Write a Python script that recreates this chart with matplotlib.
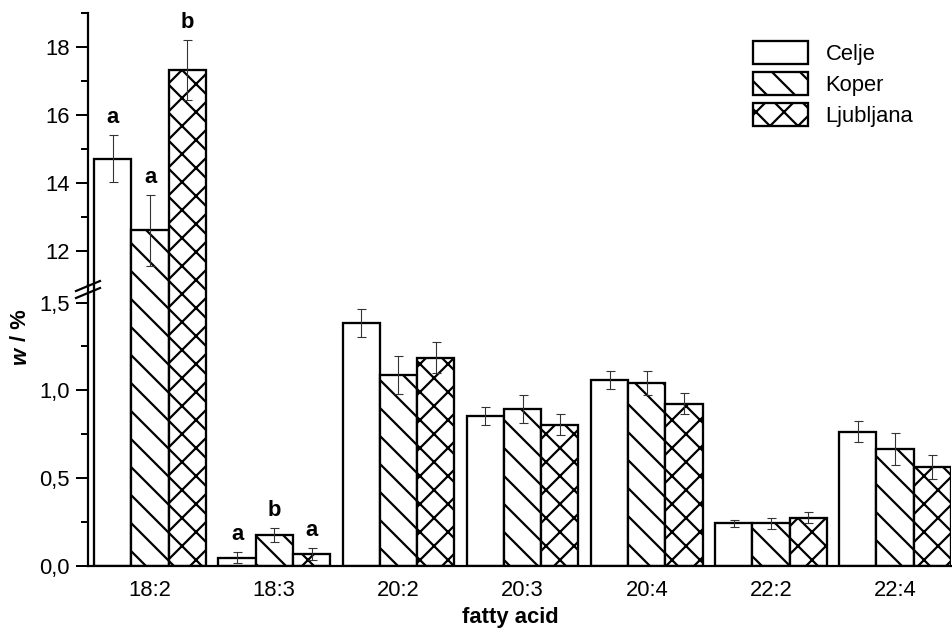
import numpy as np
import matplotlib.pyplot as plt
from matplotlib.patches import Patch
from matplotlib.lines import Line2D

# hatch spacing in matplotlib is tied to the dpi, so draw at 168 dpi and size things in pixels
DPI = 168
W, H = 952, 634


def pt(px):
    return px * 72 / DPI


plt.rcParams['font.family'] = ['Liberation Sans', 'DejaVu Sans']
plt.rcParams['font.size'] = pt(22)
plt.rcParams['hatch.linewidth'] = pt(2.2)

acids = ['18:2', '18:3', '20:2', '20:3', '20:4', '22:2', '22:4']
cities = ['Celje', 'Koper', 'Ljubljana']

celje = [14.72, 0.047, 1.386, 0.855, 1.058, 0.243, 0.765]
celje_err = [0.70, 0.030, 0.080, 0.050, 0.050, 0.020, 0.060]
koper = [12.61, 0.177, 1.087, 0.896, 1.043, 0.243, 0.667]
koper_err = [1.05, 0.040, 0.110, 0.080, 0.070, 0.030, 0.090]
ljubljana = [17.33, 0.068, 1.187, 0.805, 0.923, 0.275, 0.564]
ljubljana_err = [0.88, 0.035, 0.090, 0.060, 0.060, 0.030, 0.070]

letters_182 = ['a', 'a', 'b']   # upper part, 18:2
letters_183 = ['a', 'b', 'a']   # lower part, 18:3

series = [celje, koper, ljubljana]
errors = [celje_err, koper_err, ljubljana_err]
hatches = ['', '\\\\', 'xx']

fig = plt.figure(figsize=(W / DPI, H / DPI), dpi=DPI)


def rect(x0, y0, x1, y1):
    return [x0 / W, 1 - y1 / H, (x1 - x0) / W, (y1 - y0) / H]


ax_top = fig.add_axes(rect(88, 13, 951, 285))
ax_bot = fig.add_axes(rect(88, 285, 951, 566))

x = np.arange(len(acids))
width = 0.3
offsets = [-width, 0, width]

for ax in (ax_top, ax_bot):
    for vals, err, hatch, off in zip(series, errors, hatches, offsets):
        ax.bar(x + off, vals, width, color='white', edgecolor='black',
               linewidth=pt(2.3), hatch=hatch, zorder=2)
        ax.errorbar(x + off, vals, yerr=err, fmt='none', ecolor='#333333',
                    elinewidth=pt(1.1), capsize=pt(4.5), capthick=pt(1.1), zorder=3)
    ax.set_xlim(-0.5, 6.45)
    for s in ('right', 'top'):
        ax.spines[s].set_visible(False)
    ax.spines['left'].set_linewidth(pt(2.2))
    ax.tick_params(axis='y', which='major', length=pt(12), width=pt(2), pad=pt(6))
    ax.tick_params(axis='y', which='minor', length=pt(7), width=pt(2))

# upper part of the broken axis
ax_top.set_ylim(11, 19)
ax_top.spines['bottom'].set_visible(False)
ax_top.set_xticks([])
ax_top.set_yticks([12, 14, 16, 18])
ax_top.set_yticks([13, 15, 17, 19], minor=True)

# lower part
ax_bot.set_ylim(0, 1.6)
ax_bot.spines['bottom'].set_linewidth(pt(2.2))
ax_bot.set_yticks([0, 0.5, 1.0, 1.5])
ax_bot.set_yticklabels(['0,0', '0,5', '1,0', '1,5'])
ax_bot.set_yticks([0.25, 0.75, 1.25], minor=True)
ax_bot.set_xticks(x)
ax_bot.set_xticklabels(acids)
ax_bot.tick_params(axis='x', length=0, pad=pt(14))

# significance letters
for i, off in enumerate(offsets):
    ax_top.annotate(letters_182[i], (0 + off, series[i][0] + errors[i][0]),
                    xytext=(0, pt(12)), textcoords='offset points',
                    ha='center', va='baseline', fontweight='bold')
    ax_bot.annotate(letters_183[i], (1 + off, series[i][1] + errors[i][1]),
                    xytext=(0, pt(12)), textcoords='offset points',
                    ha='center', va='baseline', fontweight='bold')

# break marks on the y axis
for dy in (0, 7):
    fig.add_artist(Line2D([76 / W, 100 / W], [1 - (291 + dy) / H, 1 - (281 + dy) / H],
                          color='black', linewidth=pt(2.2)))

# axis labels
fig.text(510 / W, 1 - 618 / H, 'fatty acid', ha='center', va='center', fontweight='bold')
fig.text(20 / W, 1 - 347 / H, 'w', rotation=90, ha='center', va='top',
         fontweight='bold', fontstyle='italic')
fig.text(20 / W, 1 - 341 / H, '/ %', rotation=90, ha='center', va='bottom',
         fontweight='bold')

handles = [Patch(facecolor='white', edgecolor='black', linewidth=pt(2.3), hatch=h)
           for h in hatches]
fig.legend(handles, cities, loc='upper left', bbox_to_anchor=(753 / W, 1 - 41 / H),
           frameon=False, borderpad=0, borderaxespad=0, handlelength=2.5,
           handleheight=1.22, handletextpad=0.8, labelspacing=0.33)

fig.savefig('out.png', dpi=DPI)
